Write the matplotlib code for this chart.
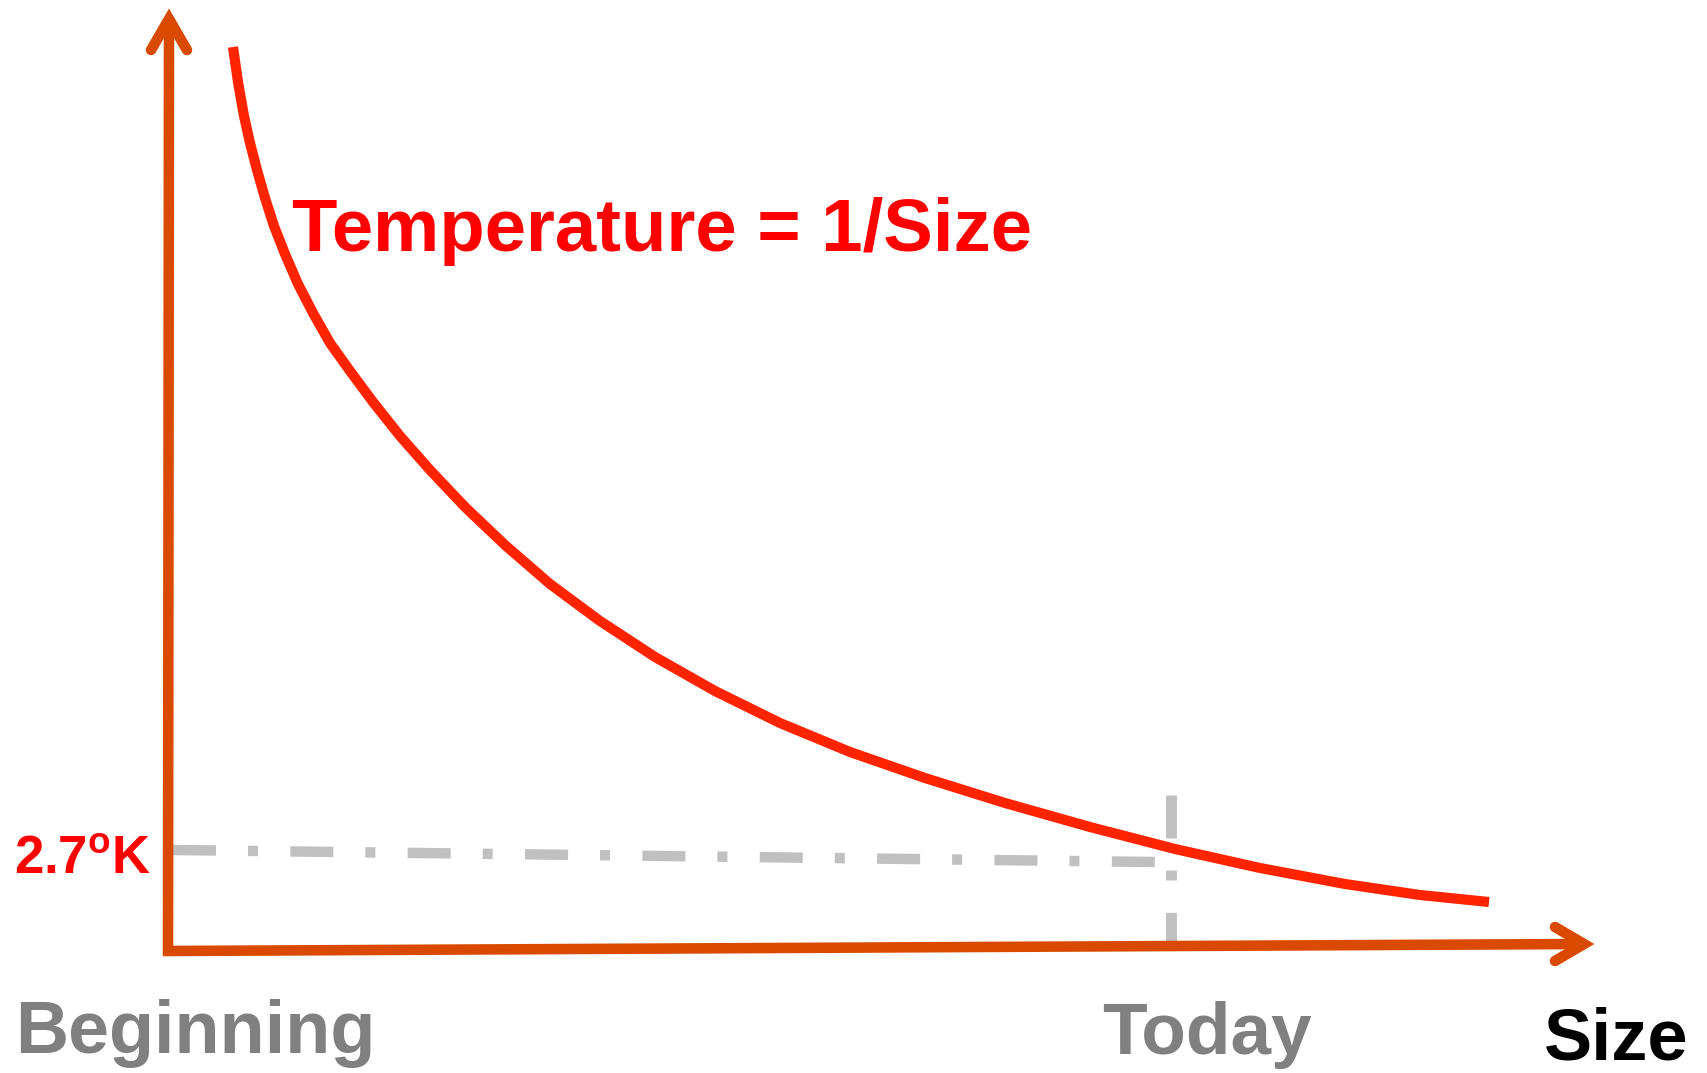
import matplotlib
matplotlib.use("Agg")
import matplotlib.pyplot as plt

plt.rcParams['font.family'] = 'Liberation Sans'
plt.rcParams['mathtext.fontset'] = 'custom'
plt.rcParams['mathtext.rm'] = 'Liberation Sans'
plt.rcParams['mathtext.bf'] = 'Liberation Sans:bold'
plt.rcParams['lines.scale_dashes'] = False

# DATA (arbitrary units, origin at the axis corner)
size = [0.65, 0.70, 0.76, 0.82, 0.89, 0.97, 1.06, 1.17, 1.30, 1.45, 1.62, 1.82,
        2.05, 2.32, 2.62, 2.97, 3.37, 3.82, 4.32, 4.87, 5.47, 6.12, 6.82, 7.57,
        8.37, 9.22, 10.07, 10.92, 11.77, 12.52, 13.21]
temperature = [9.04, 8.69, 8.35, 8.08, 7.81, 7.53, 7.25, 6.97, 6.67, 6.38, 6.08,
               5.80, 5.49, 5.15, 4.81, 4.44, 4.06, 3.67, 3.30, 2.94, 2.60, 2.28,
               1.99, 1.73, 1.48, 1.24, 1.02, 0.83, 0.67, 0.56, 0.49]

today_size = 10.03
today_line_top = 1.56
cmb_line_size = [0.05, 9.87]
cmb_line_temp = [1.01, 0.89]

title_text = 'Temperature = 1/Size'
cmb_label = r'2.7$^{\mathbf{o}}$K'
start_label = 'Beginning'
today_label = 'Today'
axis_label = 'Size'

# hand drawn axes (slightly tilted like the original)
yaxis_x = [0.01, 0.0]
yaxis_y = [9.32, -0.05]
xaxis_x = [-0.05, 14.16]
xaxis_y = [0.0, 0.07]
yhead_x = [-0.17, 0.01, 0.19]
yhead_y = [9.01, 9.32, 9.01]
xhead_x = [13.87, 14.16, 13.87]
xhead_y = [0.24, 0.07, -0.10]

AXIS_COL = '#D94A00'
CURVE_COL = '#FF2300'
GRID_COL = '#C0C0C0'
GRAY = '#808080'

fig = plt.figure(figsize=(17.07, 10.73), dpi=100)
ax = fig.add_axes([0, 0, 1, 1])
ax.set_xlim(-1.68, 15.39)
ax.set_ylim(-1.22, 9.51)
ax.axis('off')

dashdot = (0, (30.96, 23.04, 7.2, 23.3))

# reference lines
ax.plot(cmb_line_size, cmb_line_temp, color=GRID_COL, lw=7.5,
        linestyle=dashdot, dash_capstyle='butt', zorder=1)
ax.plot([today_size, today_size], [today_line_top, 0.06], color=GRID_COL, lw=7.8,
        linestyle=dashdot, dash_capstyle='butt', zorder=1)

# curve
ax.plot(size, temperature, color=CURVE_COL, lw=7.3, solid_capstyle='butt',
        solid_joinstyle='round', zorder=3)

# axes with open arrow heads
ax.plot([yaxis_x[0], yaxis_x[1], xaxis_x[1]], [yaxis_y[0], xaxis_y[0], xaxis_y[1]],
        color=AXIS_COL, lw=7.6, solid_joinstyle='miter', solid_capstyle='butt', zorder=4)
ax.plot(yhead_x, yhead_y, color=AXIS_COL, lw=7.6, solid_capstyle='round',
        solid_joinstyle='miter', zorder=4)
ax.plot(xhead_x, xhead_y, color=AXIS_COL, lw=7.6, solid_capstyle='round',
        solid_joinstyle='miter', zorder=4)

# texts
ax.text(1.24, 7.00, title_text, color='#FF0000', fontsize=53.6, fontweight='bold',
        ha='left', va='baseline')
ax.text(-1.54, 0.77, cmb_label, color='#FF0000', fontsize=38, fontweight='bold',
        ha='left', va='baseline')
ax.text(-1.53, -1.02, start_label, color=GRAY, fontsize=53, fontweight='bold',
        ha='left', va='baseline')
ax.text(9.34, -1.03, today_label, color=GRAY, fontsize=52.6, fontweight='bold',
        ha='left', va='baseline')
ax.text(13.76, -1.08, axis_label, color='black', fontsize=52, fontweight='bold',
        ha='left', va='baseline')

fig.savefig('out.png', dpi=100, facecolor='white')
